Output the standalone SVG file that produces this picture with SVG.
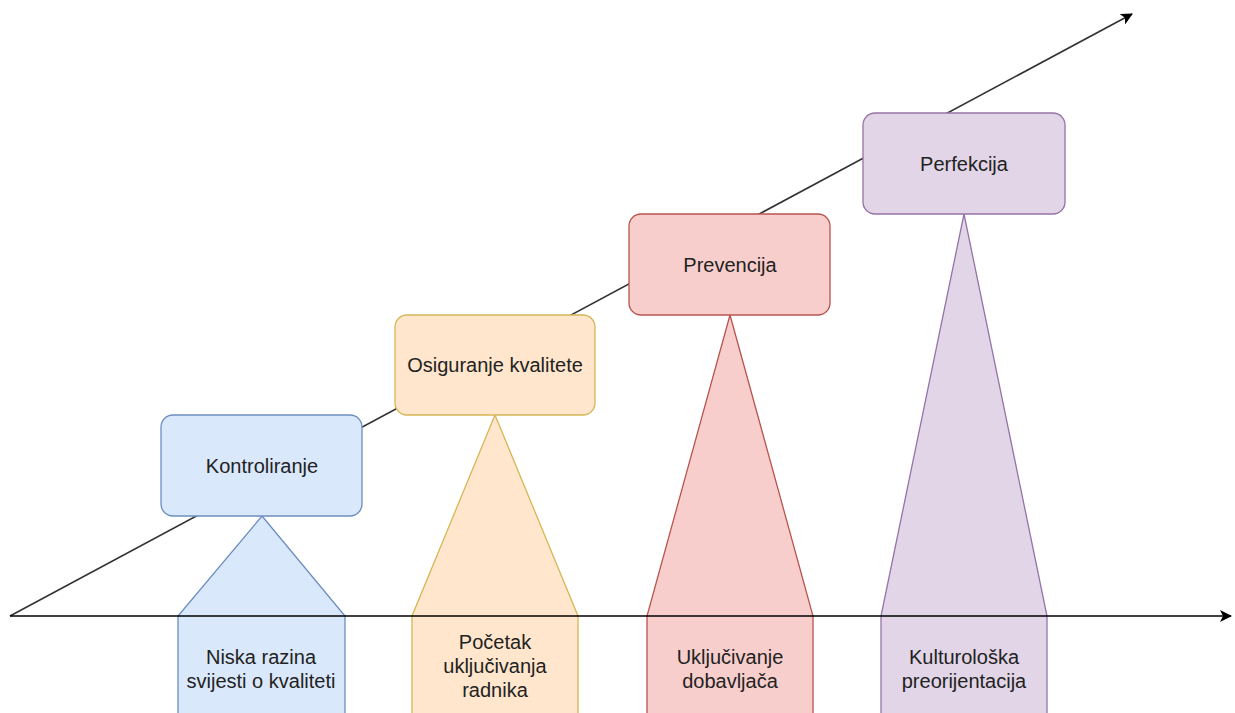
<svg xmlns="http://www.w3.org/2000/svg" width="1235" height="713" viewBox="0 0 1235 713">
<style>
.lbl{font-family:"Liberation Sans",Arial,sans-serif;font-size:20px;fill:#222;text-anchor:middle}
.blue{fill:#dae8fc;stroke:#6c8ebf;stroke-width:1.3}
.orange{fill:#ffe6cc;stroke:#d6b656;stroke-width:1.3}
.red{fill:#f8cecc;stroke:#b85450;stroke-width:1.3}
.purple{fill:#e1d5e7;stroke:#9673a6;stroke-width:1.3}
.axis{fill:none;stroke:#000;stroke-width:1.6}
.diag{fill:none;stroke:#333;stroke-width:1.6}
</style>
<defs>
<marker id="arr" viewBox="0 0 12 12" refX="11" refY="6" markerWidth="12" markerHeight="12" markerUnits="userSpaceOnUse" orient="auto">
<path d="M0,0 L12,6 L0,12 L3,6 Z" fill="#000"/>
</marker>
</defs>
<rect width="1235" height="713" fill="#fff"/>
<g id="connectors-back">
<line class="diag" x1="10" y1="616" x2="1132" y2="14" marker-end="url(#arr)"/>
</g>
<g id="node-kontroliranje">
<polygon class="blue" points="262,516 345,616 345,720 178,720 178,616"/>
<rect class="blue" x="161" y="415" width="201" height="101" rx="12"/>
<text class="lbl" x="262" y="473">Kontroliranje</text>
<text class="lbl" x="261" y="664">Niska razina</text>
<text class="lbl" x="261" y="688">svijesti o kvaliteti</text>
</g>
<g id="node-osiguranje">
<polygon class="orange" points="495,415 578,616 578,720 412,720 412,616"/>
<rect class="orange" x="395" y="315" width="200" height="100" rx="12"/>
<text class="lbl" x="495" y="372">Osiguranje kvalitete</text>
<text class="lbl" x="495" y="649">Početak</text>
<text class="lbl" x="495" y="673">uključivanja</text>
<text class="lbl" x="495" y="697">radnika</text>
</g>
<g id="node-prevencija">
<polygon class="red" points="730,315 813,616 813,720 647,720 647,616"/>
<rect class="red" x="629" y="214" width="201" height="101" rx="12"/>
<text class="lbl" x="730" y="272">Prevencija</text>
<text class="lbl" x="730" y="664">Uključivanje</text>
<text class="lbl" x="730" y="688">dobavljača</text>
</g>
<g id="node-perfekcija">
<polygon class="purple" points="964,214 1047,616 1047,720 881,720 881,616"/>
<rect class="purple" x="863" y="113" width="202" height="101" rx="12"/>
<text class="lbl" x="964" y="171">Perfekcija</text>
<text class="lbl" x="964" y="664">Kulturološka</text>
<text class="lbl" x="964" y="688">preorijentacija</text>
</g>
<g id="connectors">
<line class="axis" x1="10" y1="616" x2="1231" y2="616" marker-end="url(#arr)"/>
</g>
</svg>
